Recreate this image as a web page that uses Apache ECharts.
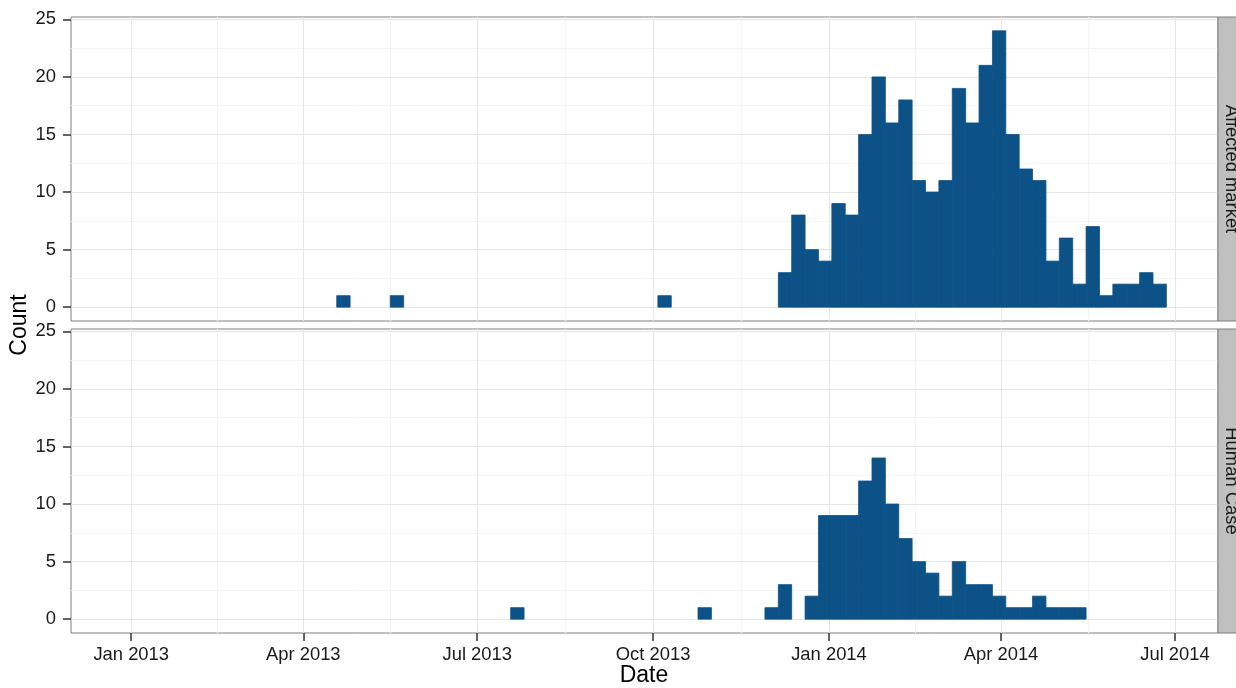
<!DOCTYPE html>
<html>
<head>
<meta charset="utf-8">
<title>Weekly counts</title>
<script src="https://cdn.jsdelivr.net/npm/echarts@6/dist/echarts.min.js"></script>
<style>
  html, body { margin: 0; padding: 0; background: #fff; }
  #chart { width: 1236px; height: 688px; }
</style>
</head>
<body>
<div id="chart"></div>
<script>
// weekly histogram bins, each 7 days wide, given by start date
const binDays = 7;

const marketWeeks = [
    '2013-04-18', '2013-05-16', '2013-10-03',
    '2013-12-05', '2013-12-12', '2013-12-19', '2013-12-26',
    '2014-01-02', '2014-01-09', '2014-01-16', '2014-01-23', '2014-01-30',
    '2014-02-06', '2014-02-13', '2014-02-20', '2014-02-27',
    '2014-03-06', '2014-03-13', '2014-03-20', '2014-03-27',
    '2014-04-03', '2014-04-10', '2014-04-17', '2014-04-24',
    '2014-05-01', '2014-05-08', '2014-05-15', '2014-05-22', '2014-05-29',
    '2014-06-05', '2014-06-12', '2014-06-19'
];
const marketCounts = [
    1, 1, 1,
    3, 8, 5, 4,
    9, 8, 15, 20, 16,
    18, 11, 10, 11,
    19, 16, 21, 24,
    15, 12, 11, 4,
    6, 2, 7, 1, 2,
    2, 3, 2
];

const humanWeeks = [
    '2013-07-18', '2013-10-24', '2013-11-28', '2013-12-05', '2013-12-19', '2013-12-26',
    '2014-01-02', '2014-01-09', '2014-01-16', '2014-01-23', '2014-01-30',
    '2014-02-06', '2014-02-13', '2014-02-20', '2014-02-27',
    '2014-03-06', '2014-03-13', '2014-03-20', '2014-03-27',
    '2014-04-03', '2014-04-10', '2014-04-17', '2014-04-24',
    '2014-05-01', '2014-05-08'
];
const humanCounts = [
    1, 1, 1, 3, 2, 9,
    9, 9, 12, 14, 10,
    7, 5, 4, 2,
    5, 3, 3, 2,
    1, 1, 2, 1,
    1, 1
];

const panelNames = ['Affected market', 'Human Case'];

const xMin = '2012-11-30T12:00:00Z';
const xMax = '2014-07-23T12:00:00Z';
const xTickDates = ['2013-01-01', '2013-04-01', '2013-07-01', '2013-10-01', '2014-01-01', '2014-04-01', '2014-07-01'];
const xTickLabels = ['Jan 2013', 'Apr 2013', 'Jul 2013', 'Oct 2013', 'Jan 2014', 'Apr 2014', 'Jul 2014'];
const xMinorDates = ['2013-02-15', '2013-05-16T12:00:00Z', '2013-08-16', '2013-11-16', '2014-02-15', '2014-05-16T12:00:00Z'];

const yMin = -1.2;
const yMax = 25.2;
const yTicks = [0, 5, 10, 15, 20, 25];
const yMinor = [2.5, 7.5, 12.5, 17.5, 22.5];

const barColor = '#0c5287';
const font = '"Liberation Sans", Arial, Helvetica, sans-serif';

function toMs(d) {
    return Date.parse(d.length === 10 ? d + 'T00:00:00Z' : d);
}

// bins start at noon
function binStart(d) {
    return Date.parse(d + 'T12:00:00Z');
}

const binMs = binDays * 24 * 3600 * 1000;

function gridLines() {
    const major = {color: '#e6e6e6', width: 1, type: 'solid'};
    const minor = {color: '#f4f4f4', width: 1, type: 'solid'};
    const data = [];
    xMinorDates.forEach(d => data.push({xAxis: toMs(d), lineStyle: minor}));
    yMinor.forEach(v => data.push({yAxis: v, lineStyle: minor}));
    xTickDates.forEach(d => data.push({xAxis: toMs(d), lineStyle: major}));
    yTicks.forEach(v => data.push({yAxis: v, lineStyle: major}));
    return data;
}

function renderBar(params, api) {
    const start = api.value(0);
    const top = api.coord([start, api.value(1)]);
    const bottom = api.coord([start + binMs, 0]);
    return {
        type: 'rect',
        shape: {x: top[0], y: top[1], width: bottom[0] - top[0], height: bottom[1] - top[1]},
        style: {fill: barColor, stroke: barColor, lineWidth: 0.8}
    };
}

const grids = [
    {left: 71, right: 18, top: 17, height: 304},
    {left: 71, right: 18, top: 329, height: 304}
];

function makeXAxis(i) {
    const bottom = i === 1;
    return {
        gridIndex: i,
        type: 'value',
        position: 'bottom',
        min: toMs(xMin),
        max: toMs(xMax),
        axisLine: {show: false, onZero: false},
        splitLine: {show: false},
        axisTick: {
            show: bottom,
            customValues: xTickDates.map(toMs),
            length: 8,
            lineStyle: {color: '#333', width: 1.5}
        },
        axisLabel: {
            show: bottom,
            customValues: xTickDates.map(toMs),
            margin: 13,
            fontSize: 18.4,
            fontFamily: font,
            color: '#1a1a1a',
            formatter: function (v) {
                const idx = xTickDates.findIndex(d => toMs(d) === v);
                return idx >= 0 ? xTickLabels[idx] : '';
            }
        }
    };
}

function makeYAxis(i) {
    return {
        gridIndex: i,
        type: 'value',
        position: 'left',
        min: yMin,
        max: yMax,
        axisLine: {show: false, onZero: false},
        splitLine: {show: false},
        axisTick: {
            show: true,
            customValues: yTicks,
            length: 8,
            lineStyle: {color: '#333', width: 1.5}
        },
        axisLabel: {
            customValues: yTicks,
            margin: 15,
            fontSize: 18.4,
            fontFamily: font,
            color: '#1a1a1a'
        }
    };
}

function makeSeries(i, weeks, counts) {
    return {
        type: 'custom',
        name: panelNames[i],
        xAxisIndex: i,
        yAxisIndex: i,
        z: 3,
        renderItem: renderBar,
        encode: {x: 0, y: 1},
        data: weeks.map((d, k) => [binStart(d), counts[k]]),
        markLine: {
            z: 1,
            silent: true,
            symbol: ['none', 'none'],
            label: {show: false},
            animation: false,
            data: gridLines()
        }
    };
}

function stripGraphics() {
    const items = [];
    grids.forEach((g, i) => {
        items.push({
            type: 'rect',
            shape: {x: 1218, y: g.top, width: 22, height: g.height},
            style: {fill: '#c0c0c0', stroke: '#7f7f7f', lineWidth: 1},
            z: 10
        });
        items.push({
            type: 'text',
            x: 1231,
            y: g.top + g.height / 2,
            rotation: -Math.PI / 2,
            style: {
                text: panelNames[i],
                fill: '#1a1a1a',
                font: '18.4px ' + font,
                align: 'center',
                verticalAlign: 'middle'
            },
            z: 11
        });
    });
    items.push({
        type: 'text',
        x: 20,
        y: 325,
        rotation: Math.PI / 2,
        style: {text: 'Count', fill: '#000', font: '23px ' + font, align: 'center', verticalAlign: 'middle'}
    });
    items.push({
        type: 'text',
        x: 644,
        y: 676,
        style: {text: 'Date', fill: '#000', font: '23px ' + font, align: 'center', verticalAlign: 'middle'}
    });
    return items;
}

function getOption() {
    return {
        animation: false,
        backgroundColor: '#fff',
        grid: grids.map(g => Object.assign({show: true, borderColor: '#7f7f7f', borderWidth: 1, backgroundColor: '#fff'}, g)),
        xAxis: [makeXAxis(0), makeXAxis(1)],
        yAxis: [makeYAxis(0), makeYAxis(1)],
        series: [
            makeSeries(0, marketWeeks, marketCounts),
            makeSeries(1, humanWeeks, humanCounts)
        ],
        graphic: stripGraphics()
    };
}

const chart = echarts.init(document.getElementById('chart'));
chart.setOption(getOption());
window.addEventListener('resize', () => chart.resize());
</script>
</body>
</html>
